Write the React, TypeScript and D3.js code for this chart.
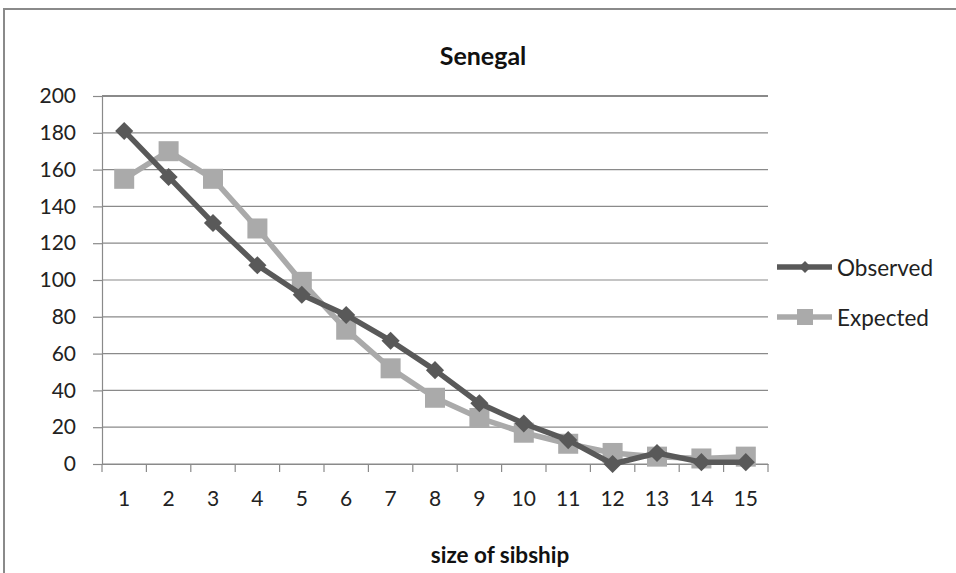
import React, { useEffect, useRef } from 'react';
import * as d3 from 'd3';

const sizes = ['1', '2', '3', '4', '5', '6', '7', '8', '9', '10', '11', '12', '13', '14', '15'];
const observed = [181, 156, 131, 108, 92, 81, 67, 51, 33, 22, 13, 0, 6, 1, 1];
const expected = [155, 170, 155, 128, 99, 73, 52, 36, 25, 17, 11, 6, 4, 3, 4];
const yTicks = [0, 20, 40, 60, 80, 100, 120, 140, 160, 180, 200];

const FONT = 'Lato, "Open Sans", sans-serif';
const OBS_COLOR = '#595959';
const EXP_COLOR = '#aaaaaa';
const GRID = '#8a8a8a';

function App() {
  const svgRef = useRef<SVGSVGElement>(null);

  useEffect(() => {
    const svg = d3.select(svgRef.current);
    svg.selectAll('*').remove();

    const left = 102, right = 768, top = 96, bottom = 464;

    // outer chart border (only top and left edges are in view)
    svg.append('rect')
      .attr('x', 4).attr('y', 9)
      .attr('width', 1000).attr('height', 1000)
      .attr('fill', 'white')
      .attr('stroke', '#8a8a8a')
      .attr('stroke-width', 2);

    const x = d3.scaleBand().domain(sizes).range([left, right]);
    const y = d3.scaleLinear().domain([0, 200]).range([bottom, top]);

    // gridlines
    svg.append('g')
      .selectAll('line')
      .data(yTicks)
      .join('line')
      .attr('x1', left).attr('x2', right)
      .attr('y1', d => y(d)).attr('y2', d => y(d))
      .attr('stroke', GRID)
      .attr('stroke-width', d => (d === 200 ? 1.8 : 1.2));

    // y axis
    const yAxis = svg.append('g')
      .attr('transform', `translate(${left},0)`)
      .call(d3.axisLeft(y).tickValues(yTicks).tickSize(9).tickPadding(17));
    yAxis.select('.domain').attr('stroke', GRID).attr('stroke-width', 1.2);
    yAxis.selectAll('.tick line').attr('stroke', GRID).attr('stroke-width', 1.2);
    yAxis.selectAll('text')
      .attr('font-family', FONT)
      .attr('font-size', 21)
      .attr('fill', '#222');

    // x axis
    const xAxis = svg.append('g')
      .attr('transform', `translate(0,${bottom})`)
      .call(d3.axisBottom(x).tickSize(0).tickPadding(27));
    xAxis.select('.domain').attr('stroke', GRID).attr('stroke-width', 1.2);
    xAxis.selectAll('text')
      .attr('font-family', FONT)
      .attr('font-size', 21)
      .attr('fill', '#222');

    // tick marks between categories
    const bounds = sizes.map(s => x(s) as number).concat([right]);
    svg.append('g')
      .selectAll('line')
      .data(bounds)
      .join('line')
      .attr('x1', d => d).attr('x2', d => d)
      .attr('y1', bottom).attr('y2', bottom + 8)
      .attr('stroke', GRID)
      .attr('stroke-width', 1.2);

    const cx = (i: number) => (x(sizes[i]) as number) + x.bandwidth() / 2;

    const line = d3.line<number>()
      .x((_, i) => cx(i))
      .y(d => y(d));

    // Expected series
    svg.append('path')
      .datum(expected)
      .attr('d', line)
      .attr('fill', 'none')
      .attr('stroke', EXP_COLOR)
      .attr('stroke-width', 5.5)
      .attr('stroke-linejoin', 'round');

    svg.append('g')
      .selectAll('rect')
      .data(expected)
      .join('rect')
      .attr('x', (_, i) => cx(i) - 10)
      .attr('y', d => y(d) - 10)
      .attr('width', 20).attr('height', 20)
      .attr('fill', EXP_COLOR);

    // Observed series
    svg.append('path')
      .datum(observed)
      .attr('d', line)
      .attr('fill', 'none')
      .attr('stroke', OBS_COLOR)
      .attr('stroke-width', 5.5)
      .attr('stroke-linejoin', 'round');

    const diamond = d3.symbol().type(d3.symbolDiamond2).size(210);
    svg.append('g')
      .selectAll('path')
      .data(observed)
      .join('path')
      .attr('d', diamond)
      .attr('transform', (d, i) => `translate(${cx(i)},${y(d)})`)
      .attr('fill', OBS_COLOR);

    // title
    svg.append('text')
      .attr('x', 483).attr('y', 65)
      .attr('text-anchor', 'middle')
      .attr('font-family', FONT)
      .attr('font-size', 25)
      .attr('font-weight', 'bold')
      .attr('fill', '#111')
      .text('Senegal');

    // x axis title
    svg.append('text')
      .attr('x', 500).attr('y', 563)
      .attr('text-anchor', 'middle')
      .attr('font-family', FONT)
      .attr('font-size', 22.5)
      .attr('font-weight', 'bold')
      .attr('fill', '#111')
      .text('size of sibship');

    // legend
    const legend = [
      { name: 'Observed', color: OBS_COLOR, y: 267, marker: 'diamond' },
      { name: 'Expected', color: EXP_COLOR, y: 317, marker: 'square' },
    ];
    const lg = svg.append('g');
    legend.forEach(item => {
      lg.append('line')
        .attr('x1', 777).attr('x2', 832)
        .attr('y1', item.y).attr('y2', item.y)
        .attr('stroke', item.color)
        .attr('stroke-width', 5.5);
      if (item.marker === 'diamond') {
        lg.append('path')
          .attr('d', d3.symbol().type(d3.symbolDiamond2).size(90)())
          .attr('transform', `translate(805,${item.y})`)
          .attr('fill', item.color);
      } else {
        lg.append('rect')
          .attr('x', 797).attr('y', item.y - 8)
          .attr('width', 16).attr('height', 16)
          .attr('fill', item.color);
      }
      lg.append('text')
        .attr('x', 837).attr('y', item.y + 9)
        .attr('font-family', FONT)
        .attr('font-size', 22.5)
        .attr('fill', '#222')
        .text(item.name);
    });
  }, []);

  return (
    <div style={{ position: 'absolute', left: 0, top: 0 }}>
      <svg ref={svgRef} width={956} height={573} style={{ display: 'block' }}></svg>
    </div>
  );
}

export default App;
